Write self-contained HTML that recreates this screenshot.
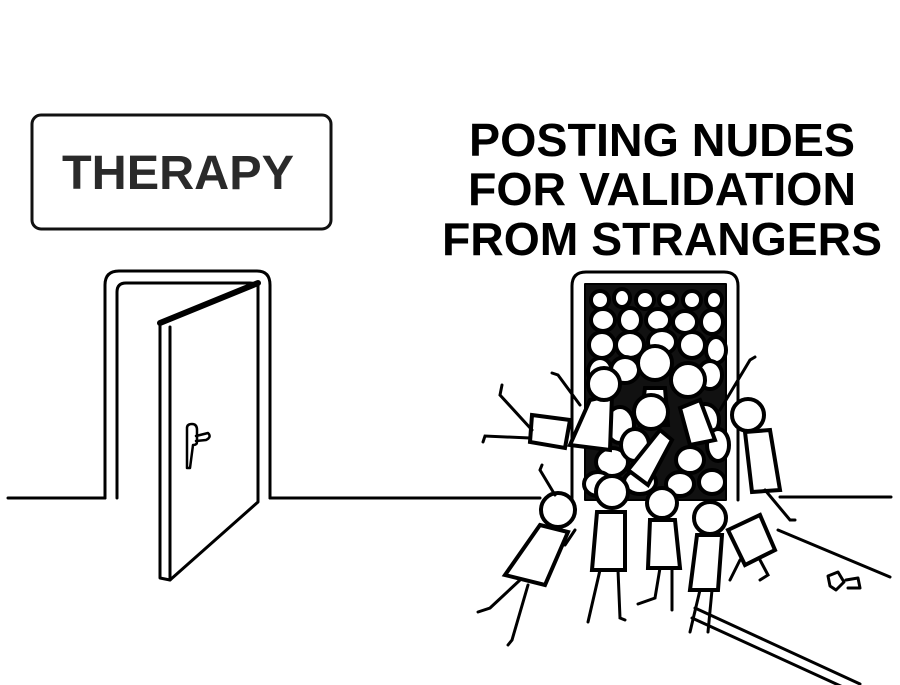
<!DOCTYPE html>
<html><head><meta charset="utf-8"><style>
html,body{margin:0;padding:0;background:#fff;width:900px;height:685px;overflow:hidden}
svg{display:block}
text{font-family:"Liberation Sans",sans-serif;font-weight:bold}
</style></head><body>
<svg width="900" height="685" viewBox="0 0 900 685" xmlns="http://www.w3.org/2000/svg">
<rect width="900" height="685" fill="#fff"/>
<rect x="32" y="115" width="299" height="114" rx="9" fill="#fff" stroke="#111" stroke-width="3"/>
<text x="178" y="189" font-size="48" text-anchor="middle" fill="#2a2a2a" textLength="232" lengthAdjust="spacingAndGlyphs">THERAPY</text>
<g font-size="46" text-anchor="middle" fill="#000">
<text x="662" y="156" textLength="386" lengthAdjust="spacingAndGlyphs">POSTING NUDES</text>
<text x="662" y="205" textLength="388" lengthAdjust="spacingAndGlyphs">FOR VALIDATION</text>
<text x="662" y="255" textLength="440" lengthAdjust="spacingAndGlyphs">FROM STRANGERS</text>
</g>
<g fill="none" stroke="#000" stroke-width="3" stroke-linecap="round" stroke-linejoin="round">
<line x1="8" y1="498" x2="105" y2="498"/>
<line x1="270" y1="498" x2="540" y2="498"/>
<line x1="780" y1="497" x2="891" y2="497"/>
<path d="M105,498 V285 Q105,271 119,271 H257 Q270,271 270,285 V498"/>
<path d="M117,498 V292 Q117,283 126,283 H250 Q258,283 258,292 V498"/>
<path d="M160,323 L258,283 L258,502 L170,580 L160,578 Z" fill="#fff"/>
<line x1="170" y1="327" x2="170" y2="580"/>
<path d="M160,323 L258,283" stroke-width="6"/>
<path d="M187,428 Q187,424 192,424 Q197,424 197,430 V442 Q197,445 193,445 L190,468 H187 Z" stroke-width="2.5"/>
<path d="M196,436 L208,433 Q212,437 206,440 L196,441" stroke-width="2.5"/>
<path d="M572,500 V286 Q572,272 586,272 H724 Q738,272 738,286 V500"/>
<rect x="585" y="284" width="141" height="216" fill="#111" stroke-width="2"/>
<path d="M778,530 L890,577"/>
<path d="M695,608 L860,684"/>
<path d="M692,618 L845,688"/>
<path d="M828,576 L838,572 L844,582 L836,590 L830,586 Z M846,580 L858,578 L860,588 L848,588" stroke-width="3"/>
</g>
<g fill="#fff" stroke="#000" stroke-width="4">
<ellipse cx="600" cy="300" rx="9" ry="9"/><ellipse cx="622" cy="298" rx="8" ry="9"/><ellipse cx="645" cy="300" rx="9" ry="9"/><ellipse cx="668" cy="300" rx="9" ry="8"/><ellipse cx="692" cy="300" rx="9" ry="9"/><ellipse cx="714" cy="300" rx="8" ry="9"/>
<ellipse cx="603" cy="320" rx="12" ry="11"/><ellipse cx="630" cy="320" rx="11" ry="12"/><ellipse cx="658" cy="320" rx="12" ry="11"/><ellipse cx="685" cy="322" rx="12" ry="11"/><ellipse cx="712" cy="322" rx="11" ry="12"/>
<ellipse cx="602" cy="345" rx="13" ry="13"/><ellipse cx="630" cy="345" rx="14" ry="13"/><ellipse cx="662" cy="342" rx="14" ry="12"/><ellipse cx="692" cy="345" rx="13" ry="13"/><ellipse cx="716" cy="350" rx="10" ry="13"/>
<ellipse cx="600" cy="372" rx="12" ry="14"/><ellipse cx="625" cy="370" rx="14" ry="13"/><ellipse cx="710" cy="375" rx="12" ry="14"/>
<ellipse cx="620" cy="425" rx="14" ry="18"/><ellipse cx="705" cy="420" rx="14" ry="16"/>
<ellipse cx="612" cy="462" rx="16" ry="14"/><ellipse cx="635" cy="445" rx="14" ry="16"/><ellipse cx="718" cy="445" rx="11" ry="16"/><ellipse cx="598" cy="484" rx="14" ry="12"/><ellipse cx="640" cy="482" rx="16" ry="12"/><ellipse cx="680" cy="484" rx="14" ry="12"/><ellipse cx="712" cy="482" rx="13" ry="12"/><ellipse cx="690" cy="460" rx="14" ry="13"/>
<path d="M645,388 L665,388 L668,425 L640,425 Z"/><circle cx="655" cy="363" r="17"/>
<path d="M680,408 L700,400 L715,440 L690,445 Z"/><circle cx="688" cy="380" r="17"/>
<path d="M628,470 L660,430 L672,440 L648,485 Z"/><circle cx="651" cy="412" r="17"/>
<path d="M590,400 L612,395 L610,450 L570,445 Z"/><circle cx="604" cy="384" r="16"/>
<path d="M532,415 L570,420 L565,448 L530,442 Z"/>
<path d="M745,432 L770,430 L780,490 L752,492 Z"/><circle cx="748" cy="415" r="16"/>
<path d="M728,530 L760,515 L775,550 L745,565 Z"/>
<path d="M540,525 L568,532 L545,585 L505,575 Z"/><circle cx="558" cy="510" r="17"/>
<path d="M597,512 L625,512 L625,570 L592,570 Z"/><circle cx="612" cy="492" r="16"/>
<path d="M650,520 L675,520 L680,568 L648,568 Z"/><circle cx="662" cy="503" r="15"/>
<path d="M697,535 L722,535 L718,590 L690,590 Z"/><circle cx="710" cy="518" r="16"/>
</g>
<g fill="none" stroke="#000" stroke-width="3" stroke-linecap="round">
<path d="M520,580 L490,608 L478,612"/><path d="M528,585 L512,640 L508,645"/>
<path d="M600,570 L588,622"/><path d="M618,570 L620,618 L625,620"/>
<path d="M660,568 L655,598 L638,604"/><path d="M672,568 L672,610"/>
<path d="M700,590 L690,632"/><path d="M712,590 L708,632"/>
<path d="M532,430 L500,395 L502,385"/><path d="M530,438 L485,436 L483,442"/>
<path d="M580,405 L558,375 L552,373"/><path d="M720,410 L750,360 L755,357"/>
<path d="M765,490 L790,520 L795,520"/><path d="M555,495 L540,470 L542,465"/>
<path d="M760,560 L768,575 L760,580"/><path d="M740,560 L730,580"/>
<path d="M575,530 L565,545"/>
</g>
</svg>
</body></html>
